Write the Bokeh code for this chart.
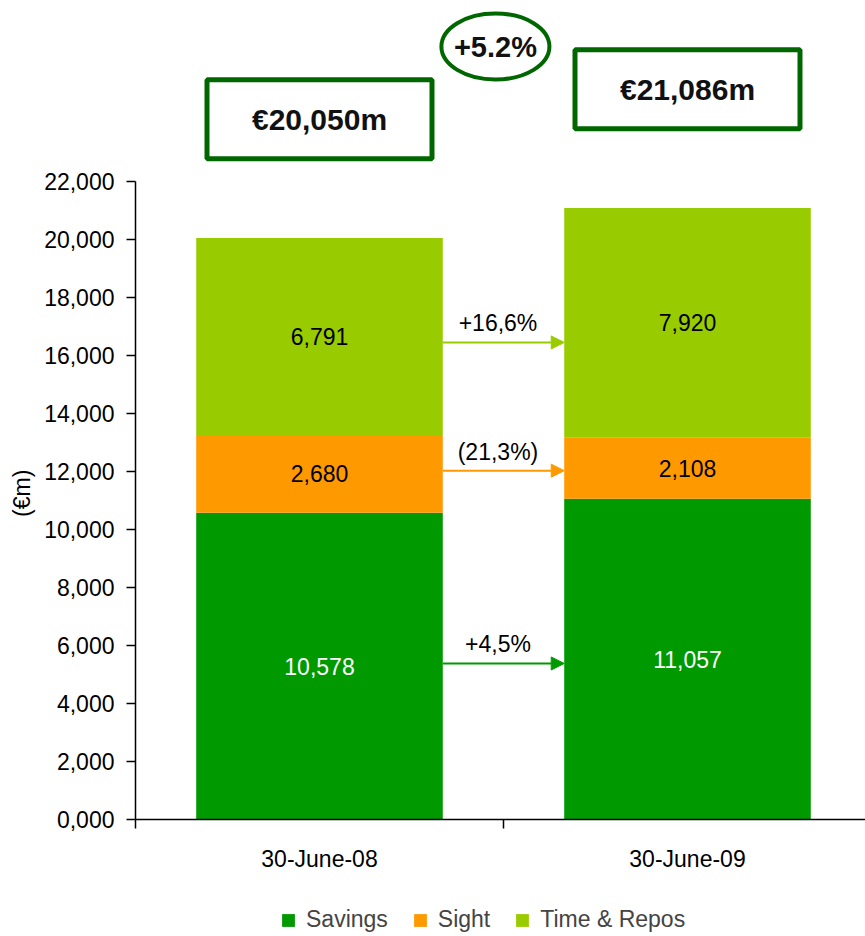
import math
from bokeh.plotting import figure
from bokeh.models import (ColumnDataSource, Range1d, FixedTicker, Legend, LegendItem,
                          Arrow, NormalHead)
from bokeh.core.properties import value
from bokeh.embed import file_html
from bokeh.resources import INLINE

# ---- data ----
categories = ["30-June-08", "30-June-09"]
series = ["Savings", "Sight", "Time & Repos"]
savings = [10578, 11057]
sight = [2680, 2108]
time_repos = [6791, 7920]
total_labels = ["€20,050m", "€21,086m"]
growth_total = "+5.2%"
change_labels = ["+4,5%", "(21,3%)", "+16,6%"]
arrow_levels = [5380, 12030, 16450]
y_ticks = [0, 2000, 4000, 6000, 8000, 10000, 12000, 14000, 16000, 18000, 20000, 22000]
y_tick_labels = ["0,000", "2,000", "4,000", "6,000", "8,000", "10,000", "12,000",
                 "14,000", "16,000", "18,000", "20,000", "22,000"]
y_title = "(€m)"

colors = ["#009900", "#FF9900", "#99CC00"]
label_colors = ["white", "black", "black"]
box_color = "#006600"
FONT = "Liberation Sans"
FS = "23px"

W, H = 865, 936
PX_X = 368.0          # pixels per category
PX_Y = 638.0 / 22000  # pixels per unit
X0_PX, Y0_PX = 135, 819

x_pos = [0.5 + i for i in range(len(categories))]
bar_w = 0.67

p = figure(width=W, height=H, output_backend="svg", toolbar_location=None,
           x_range=Range1d(-X0_PX / PX_X, (W - X0_PX) / PX_X),
           y_range=Range1d(-(H - Y0_PX) / PX_Y, Y0_PX / PX_Y),
           min_border_left=0, min_border_right=0, min_border_top=0, min_border_bottom=0)
p.outline_line_color = None
p.xgrid.visible = False
p.ygrid.visible = False

src = ColumnDataSource(dict(x=x_pos, Savings=savings, Sight=sight,
                            **{"Time & Repos": time_repos}))
rs = p.vbar_stack(series, x="x", width=bar_w, color=colors, line_color=None, source=src)

# segment labels
cols = [savings, sight, time_repos]
for si, vals in enumerate(cols):
    ys, txt = [], []
    for ci in range(len(categories)):
        base = sum(cols[k][ci] for k in range(si))
        ys.append(base + vals[ci] / 2)
        txt.append(f"{vals[ci]:,}")
    p.text(x=x_pos, y=ys, text=txt, text_align="center", text_baseline="middle",
           text_font=value(FONT), text_font_size=FS, text_color=label_colors[si])

# arrows between bars
x0 = x_pos[0] + bar_w / 2
x1 = x_pos[1] - bar_w / 2
for si in range(len(series)):
    p.add_layout(Arrow(end=NormalHead(size=13, fill_color=colors[si], line_color=colors[si]),
                       x_start=x0, y_start=arrow_levels[si], x_end=x1, y_end=arrow_levels[si],
                       line_color=colors[si], line_width=2))
p.text(x=[(x0 + x1) / 2 - 0.015] * 3, y=arrow_levels, text=change_labels, text_align="center",
       text_baseline="bottom", y_offset=-6, text_font=value(FONT), text_font_size=FS,
       text_color="black")

# total boxes
totals = [a + b + c for a, b, c in zip(savings, sight, time_repos)]
box_y = [t + 4100 for t in totals]
p.rect(x=x_pos, y=box_y, width=225, height=79, width_units="screen", height_units="screen",
       fill_color="white", line_color=box_color, line_width=5)
p.text(x=x_pos, y=box_y, text=total_labels, text_align="center", text_baseline="middle",
       text_font=value(FONT), text_font_size="30px", text_font_style="bold",
       text_color="#111111")

# growth ellipse
ell_x = [(x_pos[0] + x_pos[1]) / 2 - 0.022]
ell_y = [max(totals) + 5570]
p.ellipse(x=ell_x, y=ell_y, width=108, height=66, width_units="screen", height_units="screen",
          fill_color="white", line_color=box_color, line_width=4)
p.text(x=ell_x, y=ell_y, text=[growth_total], text_align="center", text_baseline="middle",
       text_font=value(FONT), text_font_size="29px", text_font_style="bold",
       text_color="#111111")

# y axis title
p.text(x=[0], y=[y_ticks[-1] / 2 + 250], text=[y_title], x_offset=-114, angle=math.pi / 2,
       text_align="center", text_baseline="middle", text_font=value(FONT),
       text_font_size=FS, text_color="black")

# axes
ya = p.yaxis[0]
ya.fixed_location = 0
ya.ticker = FixedTicker(ticks=y_ticks, minor_ticks=[])
ya.major_label_overrides = {t: l for t, l in zip(y_ticks, y_tick_labels)}
ya.bounds = (y_ticks[0], y_ticks[-1])
ya.major_tick_out = 9
ya.major_tick_in = 0
ya.major_label_standoff = 12
ya.major_label_text_font = FONT
ya.major_label_text_font_size = FS
ya.major_label_text_color = "black"
ya.axis_line_color = "black"
ya.axis_line_width = 1.5
ya.major_tick_line_width = 1.5

xa = p.xaxis[0]
xa.fixed_location = 0
xa.ticker = FixedTicker(ticks=x_pos, minor_ticks=[0, 1, 2])
xa.major_label_overrides = {x: c for x, c in zip(x_pos, categories)}
xa.bounds = (0, 2)
xa.major_tick_line_color = None
xa.major_tick_out = 0
xa.major_tick_in = 0
xa.minor_tick_out = 9
xa.minor_tick_in = 0
xa.minor_tick_line_color = "black"
xa.minor_tick_line_width = 1.5
xa.major_label_standoff = 17
xa.major_label_text_font = FONT
xa.major_label_text_font_size = FS
xa.major_label_text_color = "black"
xa.axis_line_color = "black"
xa.axis_line_width = 1.5

legend = Legend(items=[LegendItem(label=s, renderers=[r]) for s, r in zip(series, rs)],
                orientation="horizontal", location=(280, 3), padding=0, margin=0,
                spacing=24, label_standoff=10, glyph_width=16, glyph_height=16,
                label_text_font=FONT, label_text_font_size=FS,
                border_line_color=None, background_fill_alpha=0)
p.add_layout(legend, "center")

open("out.html", "w").write(file_html(p, INLINE))
